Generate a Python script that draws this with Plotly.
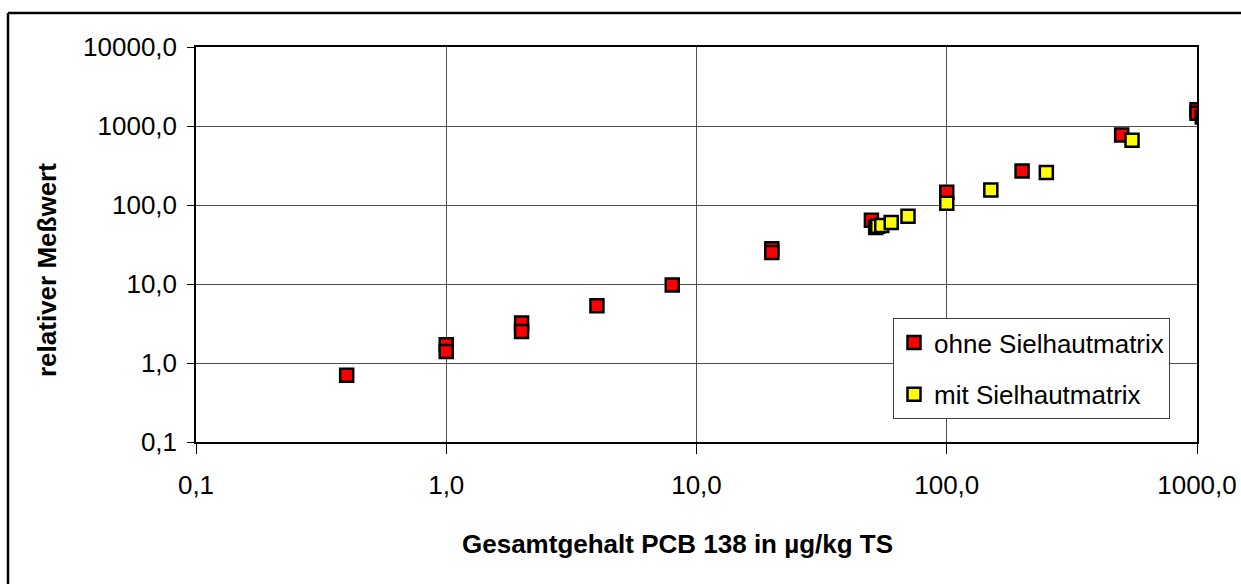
import plotly.graph_objects as go

# Data
ohne_x = [0.4, 1, 1, 2, 2, 4, 8, 20, 20, 50, 100, 200, 500, 1000, 1000]
ohne_y = [0.7, 1.7, 1.4, 3.2, 2.5, 5.3, 9.7, 28, 25, 64, 145, 270, 770, 1600, 1450]
mit_x = [52, 53, 55, 60, 70, 100, 150, 250, 550, 1050]
mit_y = [52, 54, 55, 60, 72, 105, 155, 257, 660, 1300]

tick_vals = [0.1, 1, 10, 100, 1000, 10000]
series_names = ["ohne Sielhautmatrix", "mit Sielhautmatrix"]
x_title = "Gesamtgehalt PCB 138 in µg/kg TS"
y_title = "relativer Meßwert"

FONT = "Liberation Sans, Arial, sans-serif"

fig = go.Figure()
fig.add_trace(go.Scatter(
    x=ohne_x, y=ohne_y, mode="markers", name=series_names[0], legendgroup="a",
    marker=dict(symbol="square", size=13, color="#FF0000",
                line=dict(color="black", width=2.5)),
))
fig.add_trace(go.Scatter(
    x=mit_x, y=mit_y, mode="markers", name=series_names[1], legendgroup="b",
    marker=dict(symbol="square", size=13, color="#FFFF00",
                line=dict(color="black", width=2.5)),
))

L, R, T, B = 196, 1197, 47, 442
W, H = 1241, 584
pw, ph = R - L, B - T

fig.update_layout(
    width=W, height=H,
    margin=dict(l=L, r=W - R, t=T, b=H - B, pad=0, autoexpand=False),
    paper_bgcolor="white", plot_bgcolor="white",
    separators=",.",
    font=dict(family=FONT, size=26, color="black"),
    showlegend=True,
    legend=dict(
        x=(893 - L) / pw, y=(B - 318) / ph, xanchor="left", yanchor="top",
        bgcolor="white", bordercolor="#404040", borderwidth=1,
        font=dict(family=FONT, size=26, color="black"),
        tracegroupgap=15, itemwidth=30,
    ),
    xaxis=dict(
        type="log", range=[-1, 3], tickvals=tick_vals, tickformat=".1f",
        showgrid=True, gridcolor="#505050", gridwidth=1,
        showline=True, linecolor="black", linewidth=1.5, mirror=True,
        ticks="outside", ticklen=10, tickcolor="black", tickwidth=1,
        ticklabelstandoff=9, automargin=False,
        zeroline=False, tickfont=dict(size=26),
    ),
    yaxis=dict(
        type="log", range=[-1, 4], tickvals=tick_vals, tickformat=".1f",
        showgrid=True, gridcolor="#505050", gridwidth=1,
        showline=True, linecolor="black", linewidth=1.5, mirror=True,
        ticks="outside", ticklen=7, tickcolor="black", tickwidth=1,
        ticklabelstandoff=5, automargin=False,
        zeroline=False, tickfont=dict(size=26),
    ),
    annotations=[
        dict(text=f"<b>{x_title}</b>", xref="paper", yref="paper",
             x=(677 - L) / pw, y=(B - 544) / ph, xanchor="center", yanchor="middle",
             showarrow=False, font=dict(family=FONT, size=26, color="black")),
        dict(text=f"<b>{y_title}</b>", xref="paper", yref="paper",
             x=(47 - L) / pw, y=(B - 270) / ph, xanchor="center", yanchor="middle",
             textangle=-90, showarrow=False,
             font=dict(family=FONT, size=26, color="black")),
    ],
    shapes=[
        dict(type="line", xref="paper", yref="paper",
             x0=(8 - L) / pw, x1=(8 - L) / pw, y0=-1.0, y1=(B - 13) / ph,
             line=dict(color="black", width=2.5)),
        dict(type="line", xref="paper", yref="paper",
             x0=(8 - L) / pw, x1=(1241 - L) / pw, y0=(B - 13) / ph, y1=(B - 13) / ph,
             line=dict(color="black", width=2.5)),
    ],
)

fig.write_html("out.html", config={"displayModeBar": False})
